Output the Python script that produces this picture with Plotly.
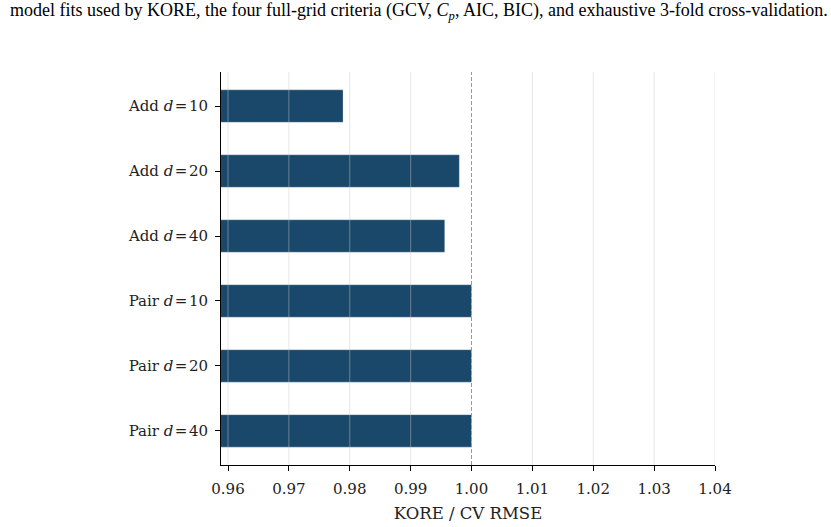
import plotly.graph_objects as go

labels = ["Add <i>d</i>\u200a=\u200a10", "Add <i>d</i>\u200a=\u200a20", "Add <i>d</i>\u200a=\u200a40",
          "Pair <i>d</i>\u200a=\u200a10", "Pair <i>d</i>\u200a=\u200a20", "Pair <i>d</i>\u200a=\u200a40"]
ratios = [0.9789, 0.9980, 0.9956, 1.0000, 1.0000, 1.0000]
xticks = [0.96, 0.97, 0.98, 0.99, 1.00, 1.01, 1.02, 1.03, 1.04]
caption = ("model fits used by KORE, the four full-grid criteria (GCV, <i>C<sub>p</sub></i>, AIC, BIC), "
           "and exhaustive 3-fold cross-validation.")

bar_color = "#1a486b"
tick_font = dict(family="DejaVu Serif", size=15, color="#222")

fig = go.Figure()
fig.add_trace(go.Bar(
    y=list(range(len(labels))), x=ratios, orientation="h", width=0.5,
    marker=dict(color=bar_color, line=dict(color="rgba(255,255,255,0.35)", width=0.8)),
    showlegend=False, hoverinfo="x",
))

shapes = []
for t in xticks:
    if abs(t - 1.0) < 1e-9:
        continue
    shapes.append(dict(type="line", xref="x", yref="paper", x0=t, x1=t, y0=0, y1=1,
                       line=dict(color="rgba(200,200,200,0.45)", width=1), layer="above"))
shapes.append(dict(type="line", xref="x", yref="paper", x0=1.0, x1=1.0, y0=0, y1=1,
                   line=dict(color="#999", width=1, dash="4px,2px"), layer="above"))

fig.update_layout(
    width=831, height=527,
    margin=dict(l=221, r=116, t=72, b=62),
    paper_bgcolor="white", plot_bgcolor="white",
    shapes=shapes,
    xaxis=dict(range=[0.95885, 1.04], tickvals=xticks,
               ticktext=[f"{v:.2f}" for v in xticks],
               showgrid=False, zeroline=False, automargin=False,
               showline=True, linecolor="black", linewidth=1,
               ticks="outside", ticklen=5, tickcolor="black",
               ticklabelstandoff=5,
               tickfont=tick_font,
               title=dict(text="KORE / CV RMSE", font=dict(family="DejaVu Serif", size=16.5, color="#222"),
                          standoff=10)),
    yaxis=dict(range=[5.525, -0.525], tickvals=list(range(len(labels))), ticktext=labels,
               showgrid=False, zeroline=False, automargin=False,
               showline=True, linecolor="black", linewidth=1,
               ticks="outside", ticklen=5, tickcolor="black",
               ticklabelstandoff=4,
               tickfont=tick_font),
    annotations=[dict(text=caption, xref="paper", yref="paper",
                      x=(8 - 221) / 494, y=(465 - 11) / 393,
                      xanchor="left", yanchor="middle", showarrow=False,
                      font=dict(family="Liberation Serif", size=18, color="black"))],
)

fig.write_html("out.html")
